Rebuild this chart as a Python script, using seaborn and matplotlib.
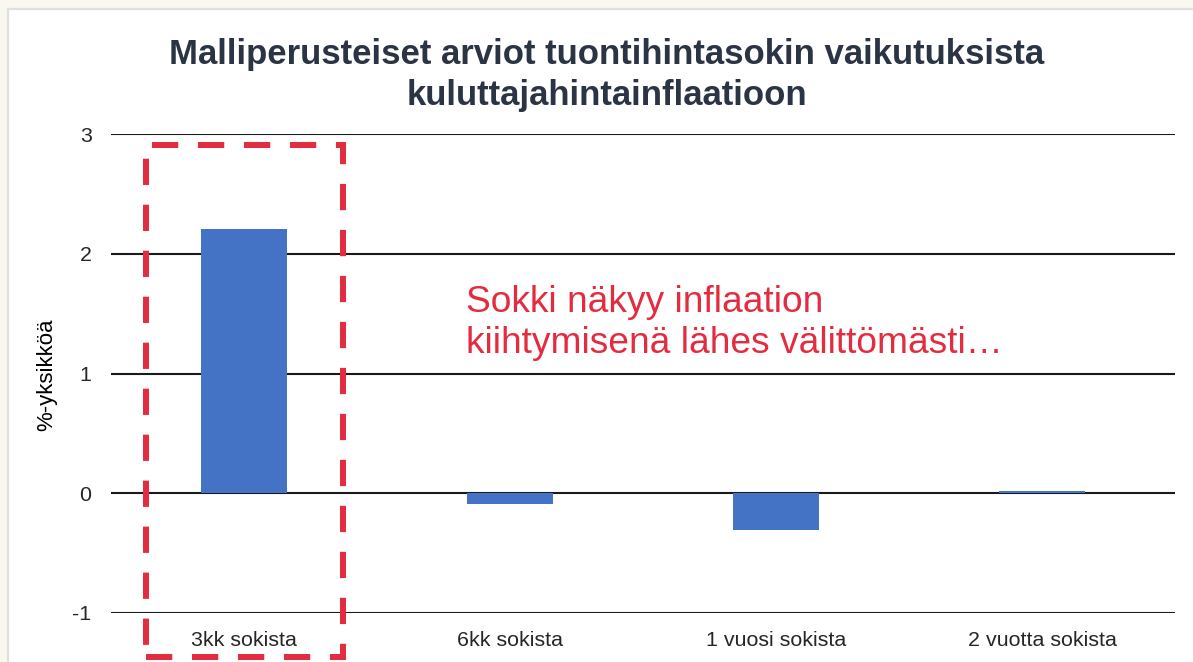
import matplotlib
matplotlib.use("Agg")
import matplotlib.pyplot as plt
from matplotlib.patches import Rectangle
import seaborn as sns
import pandas as pd

categories = ["3kk sokista", "6kk sokista", "1 vuosi sokista", "2 vuotta sokista"]
values = [2.21, -0.09, -0.31, 0.015]
yticks = [-1, 0, 1, 2, 3]
title_lines = ["Malliperusteiset arviot tuontihintasokin vaikutuksista",
               "kuluttajahintainflaatioon"]
ylabel = "%-yksikköä"
note_lines = ["Sokki näkyy inflaation", "kiihtymisenä lähes välittömästi…"]

sns.set_style("white")
plt.rcParams["font.family"] = ["Liberation Sans", "DejaVu Sans"]

BLUE = "#4472c4"
RED = "#e32c40"
NAVY = "#2b3444"

fig = plt.figure(figsize=(11.93, 6.62), dpi=100)
fig.patch.set_facecolor("#faf6f0")
fig.patches.append(Rectangle((8 / 1193, -0.1), 1.2, (662 - 9) / 662 + 0.1,
                             transform=fig.transFigure, facecolor="white",
                             edgecolor="#e0e0e0", lw=1.6, zorder=-5))

ax = fig.add_axes([111 / 1193, 1 - 613 / 662, (1175 - 111) / 1193, (613 - 134) / 662])
ax.set_facecolor("none")

df = pd.DataFrame({"cat": categories, "val": values})
sns.barplot(data=df, x="cat", y="val", color=BLUE, width=0.32, ax=ax,
            saturation=1, edgecolor="none")

ax.set_ylim(-1, 3)
ax.set_xlim(-0.5, 3.5)
ax.set_yticks(yticks)
ax.set_yticklabels([str(t) for t in yticks])
ax.yaxis.grid(True, color="#1a1a1a", lw=1.5)
ax.set_axisbelow(True)
for s in ax.spines.values():
    s.set_visible(False)
ax.tick_params(axis="y", length=0, pad=14, labelsize=15.4)
ax.tick_params(axis="x", length=0, pad=13, labelsize=15.4)
ax.set_xlabel("")
ax.set_ylabel("")

fig.text(47 / 1193, 1 - 375 / 662, ylabel, rotation=90, ha="center", va="center",
         fontsize=16, color="black")

fig.text(606.5 / 1193, 1 - 64 / 662, title_lines[0], ha="center", va="baseline",
         fontsize=25, fontweight="bold", color=NAVY)
fig.text(606.5 / 1193, 1 - 105 / 662, title_lines[1], ha="center", va="baseline",
         fontsize=25, fontweight="bold", color=NAVY)

ax.text(0.835, 1.512, note_lines[0], ha="left", va="baseline", fontsize=26.7, color=RED)
ax.text(0.835, 1.17, note_lines[1], ha="left", va="baseline", fontsize=26.7, color=RED)

rect = Rectangle((-0.368, -1.37), 0.74, 2.907 + 1.37, fill=False, edgecolor=RED,
                 lw=4.3, linestyle=(0, (4.4, 3.3)), clip_on=False, zorder=5)
ax.add_patch(rect)

fig.savefig("out.png", dpi=100, facecolor=fig.get_facecolor())
